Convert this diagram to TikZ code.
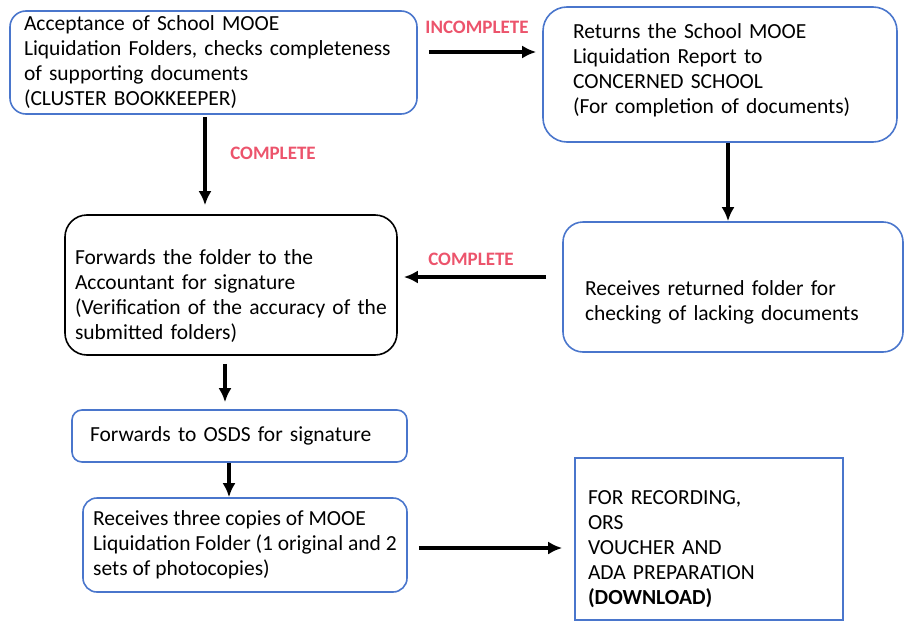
\documentclass[tikz,border=0pt]{standalone}
\usepackage{fontspec}
\setmainfont{Carlito}
\usetikzlibrary{arrows.meta}

\definecolor{boxblue}{RGB}{74,118,204}
\definecolor{labelred}{RGB}{236,84,108}

\begin{document}
\begin{tikzpicture}[
    x=1pt, y=-1pt,
    >={Latex[length=14pt,width=13pt]},
    font=\fontsize{21.5}{25}\selectfont,
    stepbox/.style={draw=boxblue, line width=1.6pt, rounded corners=16pt,
                    align=left},
    flow/.style={->, line width=3.4pt},
    cond/.style={text=labelred, font=\fontsize{19}{22}\selectfont\bfseries}
]
\useasboundingbox (0,0) rectangle (904,621);

% linke Spalte
\node[stepbox, minimum width=407, minimum height=103,
      inner xsep=14, text width=379] (accept) at (213.5,62.5)
      {Acceptance of School MOOE\\Liquidation Folders, checks completeness\\of supporting documents\\(CLUSTER BOOKKEEPER)};

\node[stepbox, draw=black, rounded corners=22pt, minimum width=332, minimum height=140,
      inner xsep=10, text width=312, text height=36] (accountant) at (231,285)
      {Forwards the folder to the\\Accountant for signature\\(Verification of the accuracy of the\\submitted folders)};

\node[stepbox, rounded corners=10pt, minimum width=335, minimum height=52,
      inner xsep=18, text width=299] (osds) at (239.5,436)
      {Forwards to OSDS for signature};

\node[stepbox, rounded corners=14pt,
      minimum width=324, minimum height=94] (copies) at (245,545)
      {Receives three copies of MOOE\\Liquidation Folder (1 original and 2\\sets of photocopies)};

% rechte Spalte
\node[stepbox, rounded corners=24pt, minimum width=354, minimum height=135,
      inner xsep=30, text width=294, text height=7] (returns) at (720,74.5)
      {Returns the School MOOE\\Liquidation Report to\\CONCERNED SCHOOL\\(For completion of documents)};

\node[stepbox, rounded corners=20pt, minimum width=340, minimum height=130,
      inner xsep=22, text width=296, text height=46] (received) at (733,287)
      {Receives returned folder for\\checking of lacking documents};

\node[stepbox, rounded corners=0pt, minimum width=268, minimum height=162,
      inner xsep=13, text width=242, text height=34] (recording) at (709,539)
      {FOR RECORDING,\\ORS\\VOUCHER AND\\ADA PREPARATION\\\textbf{(DOWNLOAD)}};

% Bedingungen
\node[cond] (incomplete) at (477,27) {INCOMPLETE};
\node[cond] (complete1) at (273,153) {COMPLETE};
\node[cond] (complete2) at (471,259) {COMPLETE};

% Pfeile
\draw[flow] ([shift={(11,-10.5)}]accept.east) -- ([shift={(-6,-10.5)}]accept.east -| returns.west);
\draw[flow] ([shift={(-8.5,2)}]accept.south) -- ([shift={(-8.5,-9)}]accept.south |- accountant.north);
\draw[flow] ([xshift=8]returns.south) -- ([xshift=8]returns.south |- received.north);
\draw[flow] ([shift={(-16,-10)}]received.west) -- ([shift={(6,-10)}]received.west -| accountant.east);
\draw[flow] ([shift={(-6,8)}]accountant.south) -- ([shift={(-6,-7)}]accountant.south |- osds.north);
\draw[flow] ([xshift=-10.5]osds.south) -- ([xshift=-10.5]osds.south |- copies.north);
\draw[flow] ([shift={(11,3)}]copies.east) -- ([shift={(-12,3)}]copies.east -| recording.west);

\end{tikzpicture}
\end{document}
